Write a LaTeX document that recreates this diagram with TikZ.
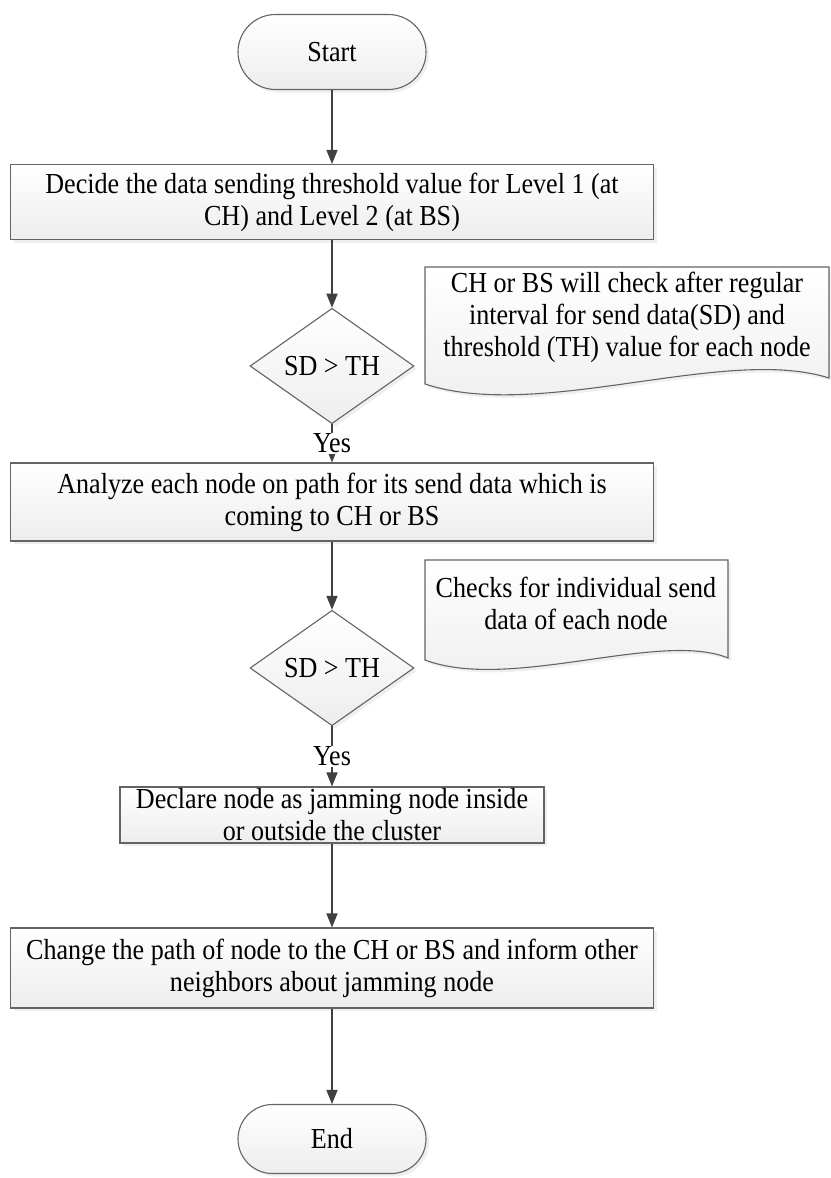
\documentclass[tikz,border=0pt]{standalone}
\usepackage{fontspec}
\setmainfont{Liberation Serif}[FakeStretch=0.9]
\usetikzlibrary{shapes.geometric,shapes.misc,arrows.meta,shadows,positioning}
\definecolor{flowline}{HTML}{404040}
\definecolor{shapeedge}{HTML}{646464}
\begin{document}
\begin{tikzpicture}[x=1pt,y=-1pt,>={Triangle[length=14pt,width=11pt]},
  every node/.style={font=\fontsize{29}{32}\selectfont,align=center},
  boxbase/.style={draw=shapeedge,line width=1.1pt,top color=white,bottom color=gray!14,
    drop shadow={shadow xshift=3pt,shadow yshift=-3pt,fill=black!12}},
  procbox/.style={boxbase,rectangle,inner sep=0pt},
  termbox/.style={boxbase,rounded rectangle,inner sep=0pt,minimum width=188pt},
  decbox/.style={boxbase,diamond,inner sep=0pt,minimum width=164pt,minimum height=98pt},
  flow/.style={draw=flowline,line width=1.6pt,->}]
  \useasboundingbox (0,0) rectangle (830,1178);
  % main column
  \node[termbox,minimum height=75pt] (start) at (332,52) {Start};
  \node[procbox,minimum width=643pt,minimum height=75pt] (decide) at (332,202) {Decide the data sending threshold value for Level 1 (at\\CH) and Level 2 (at BS)};
  \node[decbox] (chk1) at (332,366) {SD > TH};
  \node[procbox,minimum width=643pt,minimum height=78pt] (analyze) at (332,502) {Analyze each node on path for its send data which is\\coming to CH or BS};
  \node[decbox] (chk2) at (332,668) {SD > TH};
  \node[procbox,minimum width=424pt,minimum height=56pt] (declare) at (332,815) {Declare node as jamming node inside\\or outside the cluster};
  \node[procbox,minimum width=643pt,minimum height=80pt] (change) at (332,968) {Change the path of node to the CH or BS and inform other\\neighbors about jamming node};
  \node[termbox,minimum height=69pt] (end) at (332,1139) {End};
  % notes
  \path[boxbase] (425,267) -- (829,267) -- (829,378) .. controls (725,345) and (540,422) .. (425,384) -- cycle;
  \node (note1) at (627,317) {CH or BS will check after regular\\interval for send data(SD) and\\threshold (TH) value for each node};
  \path[boxbase] (425,560) -- (728,560) -- (728,658) .. controls (660,630) and (510,692) .. (425,660) -- cycle;
  \node (note2) at (576,603) {Checks for individual send\\data of each node};
  % connectors
  \draw[flow] (start) -- (decide);
  \draw[flow] (decide) -- (chk1);
  \draw[flow] (chk1) -- node[fill=white,inner sep=1pt] (yes1) {Yes} (analyze);
  \draw[flow] (analyze) -- (chk2);
  \draw[flow] (chk2) -- node[fill=white,inner sep=1pt] (yes2) {Yes} (declare);
  \draw[flow] (declare) -- (change);
  \draw[flow] (change) -- (end);
\end{tikzpicture}
\end{document}
